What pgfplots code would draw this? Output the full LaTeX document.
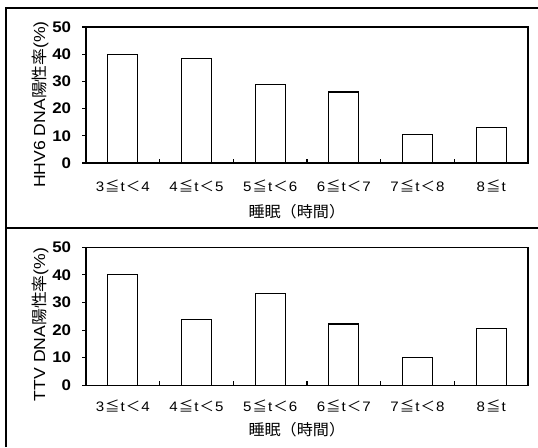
\documentclass[border=0pt]{standalone}
\usepackage{fontspec}
\setmainfont{Liberation Sans}[FakeStretch=1.1]
\newfontfamily\cjk{Noto Sans CJK JP}[FakeStretch=1.05]
\usepackage{pgfplots}
\pgfplotsset{compat=1.18}
\newcommand{\LE}{\hspace{0.8pt}{\cjk ≦}\hspace{0.8pt}}
\newcommand{\LT}{\hspace{0.8pt}{\cjk ＜}\hspace{0.8pt}}
\pgfplotstableread{
x y
0 40.0
1 38.5
2 28.8
3 26.1
4 10.6
5 13.1
}\hhv
\pgfplotstableread{
x y
0 40.0
1 23.7
2 33.4
3 22.2
4 10.2
5 20.5
}\ttv
\pgfplotsset{
  panel/.style={
    scale only axis,
    width=331.5pt,
    xmin=-0.5, xmax=5.5,
    ymin=0, ymax=50,
    ytick={0,10,...,50},
    xtick={-0.5,0.5,...,5.5},
    x tick label as interval,
    xticklabels={{3\LE t\LT 4},{4\LE t\LT 5},{5\LE t\LT 6},{6\LE t\LT 7},{7\LE t\LT 8},{8\LE t}},
    xtick align=inside,
    ytick align=outside,
    major tick length=3pt,
    xtick pos=bottom, ytick pos=left,
    axis line style={line width=0.9pt},
    tick style={line width=0.8pt, black},
    /pgf/number format/assume math mode=true,
    yticklabel style={font=\fontsize{11.5}{13}\selectfont\bfseries, anchor=east, xshift=-8pt, inner sep=0pt},
    xticklabel style={font=\fontsize{10.3}{12}\selectfont, anchor=center, inner sep=0pt},
    ylabel style={font=\fontsize{12}{14}\selectfont, anchor=center, at={(axis description cs:-0.104,0.43)}},
    xlabel style={font=\fontsize{11.5}{13}\selectfont, anchor=center},
    xlabel={\cjk 睡眠（時間）},
  },
  bars/.style={ybar, bar width=22.5pt, fill=white, draw=black, line width=0.8pt},
}
\begin{document}
\begin{tikzpicture}
\useasboundingbox (0,0) rectangle (403.5pt,335.25pt);
\draw[line width=1.6pt] (4.5pt,0) -- (4.5pt,329.25pt) -- (405pt,329.25pt);
\draw[line width=1.6pt] (4.5pt,164.25pt) -- (405pt,164.25pt);
\begin{axis}[panel, at={(64.5pt,213pt)}, anchor=south west, height=102pt,
  ylabel={HHV6 DNA{\cjk 陽性率}(\%)},
  xticklabel style={yshift=-17.6pt},
  xlabel style={at={(axis description cs:0.477,0)}, yshift=-36.75pt}]
\addplot[bars] table[x=x,y=y] {\hhv};
\end{axis}
\begin{axis}[panel, at={(64.5pt,46.3pt)}, anchor=south west, height=103.5pt,
  ylabel={TTV DNA{\cjk 陽性率}(\%)},
  ylabel style={at={(axis description cs:-0.104,0.44)}},
  xticklabel style={yshift=-15.4pt},
  xlabel style={at={(axis description cs:0.477,0)}, yshift=-33.5pt}]
\addplot[bars] table[x=x,y=y] {\ttv};
\end{axis}
\end{tikzpicture}
\end{document}
